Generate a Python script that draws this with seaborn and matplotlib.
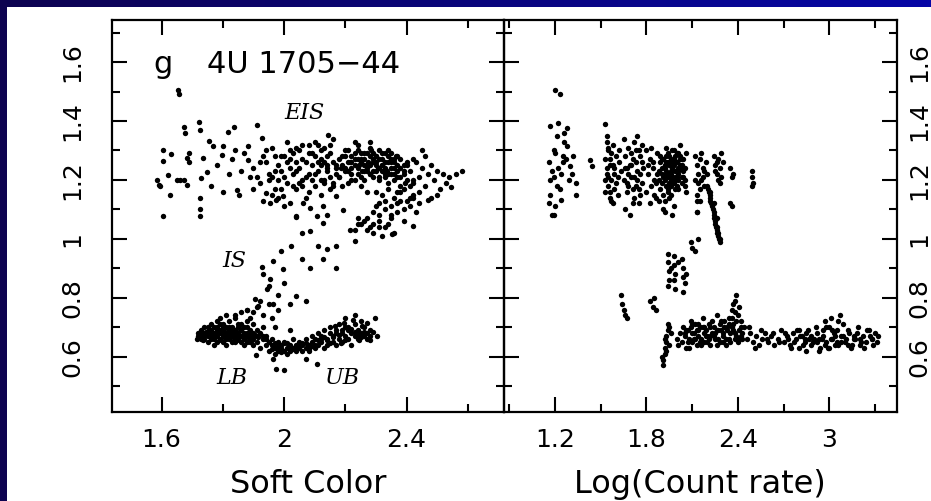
import numpy as np
import matplotlib
matplotlib.use("Agg")
import matplotlib.pyplot as plt
import seaborn as sns
import pandas as pd
from matplotlib.ticker import MultipleLocator, FixedLocator
from matplotlib.colors import LinearSegmentedColormap
from matplotlib.patches import Rectangle

# ---------------- Panel g (left): Soft colour vs Hard colour ----------------
eis_left_x = [1.654,1.656,1.673,1.676,1.722,1.725,1.817,1.836,1.91,1.928,2.144,1.605,1.63,1.605,1.69,1.683,1.736,1.755,1.768,1.80,1.796,1.622,1.649,1.672,1.684,1.727,1.749,1.82,1.584,1.592,1.627,1.725,1.845,1.853,1.881,1.881,1.605,1.725,1.725,1.66,1.69,1.78,1.83,1.86,1.87,1.89,1.90,1.76,1.80,1.84,1.594]
eis_left_y = [1.506,1.493,1.38,1.359,1.395,1.37,1.364,1.378,1.386,1.342,1.354,1.30,1.288,1.264,1.291,1.275,1.275,1.331,1.314,1.314,1.285,1.218,1.201,1.201,1.184,1.205,1.228,1.221,1.201,1.184,1.15,1.139,1.167,1.15,1.314,1.267,1.079,1.079,1.10,1.20,1.26,1.25,1.27,1.23,1.29,1.21,1.17,1.18,1.16,1.30,1.18]

eis_mid_x = [1.90,1.92,1.93,1.95,1.96,1.97,1.98,2.00,2.01,2.02,2.03,2.04,2.05,2.06,2.07,2.08,2.09,2.10,2.11,2.12,2.13,2.14,2.15,2.16,2.17,2.18,2.19,2.20,
             1.91,1.94,1.96,1.99,2.01,2.03,2.05,2.07,2.09,2.11,2.13,2.15,2.17,2.19,1.93,1.97,2.00,2.04,2.08,2.12,2.16,2.20,1.98,2.02,2.06,2.10,2.14,2.18,
             1.92,1.95,1.97,1.99,2.02,2.04,2.06,2.08,2.10,2.12,2.14,1.94,1.96,1.99,2.01,2.03,2.05,2.08,2.11,2.13,2.15,2.02,2.06,2.09,2.12,1.98,2.00,2.04,2.07,2.10]
eis_mid_y = [1.24,1.19,1.28,1.22,1.31,1.17,1.25,1.21,1.33,1.27,1.18,1.23,1.30,1.20,1.26,1.16,1.29,1.22,1.32,1.25,1.19,1.28,1.21,1.34,1.24,1.27,1.18,1.30,
             1.21,1.26,1.15,1.23,1.19,1.29,1.24,1.14,1.20,1.26,1.31,1.17,1.22,1.25,1.13,1.28,1.11,1.26,1.32,1.15,1.19,1.23,1.20,1.12,1.18,1.28,1.24,1.21,
             1.26,1.20,1.23,1.28,1.24,1.17,1.27,1.22,1.18,1.30,1.25,1.30,1.21,1.17,1.26,1.22,1.19,1.29,1.23,1.26,1.32,1.30,1.32,1.25,1.20,1.14,1.28,1.31,1.21,1.33]

eis_core_x = [2.21,2.22,2.23,2.24,2.25,2.26,2.27,2.28,2.29,2.30,2.31,2.32,2.33,2.34,2.35,2.36,2.37,2.38,2.39,2.40,
              2.21,2.22,2.23,2.24,2.25,2.26,2.27,2.28,2.29,2.30,2.31,2.32,2.33,2.34,2.35,2.36,2.37,2.38,2.39,2.40,
              2.20,2.22,2.24,2.26,2.28,2.30,2.32,2.34,2.36,2.38,2.21,2.23,2.25,2.27,2.29,2.31,2.33,2.35,2.37,2.39,
              2.22,2.25,2.28,2.31,2.34,2.37,2.24,2.27,2.30,2.33,2.36,2.26,2.29,2.32,2.35,2.23,2.28,
              2.12,2.14,2.16,2.18,2.20,2.22,2.24,2.26,2.28,2.30,2.32,2.34,2.36,2.38,2.40,2.42,2.13,2.15,2.17,2.19,2.21,2.23,2.25,2.27,2.29,2.31,2.33,2.35,2.37,2.39,2.41,2.185,2.215,2.245,2.275,2.305,2.335,2.365,2.395,2.255,2.285]
eis_core_y = [1.26,1.22,1.29,1.24,1.27,1.20,1.25,1.28,1.23,1.26,1.21,1.29,1.24,1.19,1.27,1.22,1.25,1.18,1.23,1.20,
              1.23,1.28,1.25,1.30,1.21,1.27,1.24,1.22,1.29,1.25,1.27,1.23,1.26,1.28,1.22,1.26,1.21,1.24,1.17,1.25,
              1.24,1.26,1.22,1.25,1.31,1.23,1.27,1.30,1.20,1.27,1.19,1.33,1.26,1.29,1.26,1.30,1.21,1.24,1.16,1.22,
              1.20,1.18,1.25,1.24,1.26,1.28,1.32,1.16,1.28,1.22,1.24,1.23,1.21,1.25,1.29,1.27,1.33,
              1.27,1.23,1.26,1.21,1.28,1.24,1.27,1.29,1.22,1.28,1.25,1.22,1.27,1.21,1.26,1.20,1.20,1.29,1.25,1.28,1.30,1.20,1.29,1.23,1.27,1.20,1.29,1.26,1.23,1.25,1.18,1.24,1.26,1.25,1.26,1.24,1.23,1.28,1.19,1.23,1.30]

eis_tail_x = [2.41,2.42,2.43,2.44,2.45,2.46,2.47,2.48,2.49,2.50,2.51,2.52,2.53,2.54,2.56,2.58,2.42,2.44,2.46,2.48,2.41,2.45,2.50]
eis_tail_y = [1.23,1.19,1.26,1.21,1.24,1.18,1.22,1.25,1.20,1.23,1.17,1.22,1.19,1.21,1.22,1.23,1.27,1.16,1.28,1.14,1.14,1.30,1.15]

hook_x = [2.30,2.32,2.34,2.36,2.38,2.40,2.42,2.44,2.31,2.33,2.35,2.37,2.39,2.41,2.43,2.29,2.31,2.33,2.35,2.37,2.39,2.27,2.29,2.31,2.33,2.35,2.25,2.27,2.29,2.31,2.24,2.26,2.28,2.23,2.30,2.34,2.38,2.42,2.36,2.32,
          2.231,2.351,2.422,2.47,2.546,2.04,2.057,2.084,2.128,2.139,2.193,2.215,2.24,1.942,1.975,1.997,1.954,2.062,2.084,2.106,2.128,2.171,2.16]
hook_y = [1.16,1.15,1.17,1.14,1.16,1.13,1.15,1.12,1.12,1.13,1.11,1.12,1.10,1.11,1.09,1.09,1.08,1.10,1.07,1.09,1.06,1.07,1.05,1.06,1.04,1.08,1.05,1.03,1.02,1.04,1.07,1.06,1.04,1.03,1.11,1.05,1.13,1.14,1.02,1.01,
          0.992,1.015,1.043,1.133,1.176,1.077,1.02,1.026,1.054,1.08,1.099,1.031,1.05,1.156,1.133,1.144,1.122,1.122,1.105,1.077,1.111,1.144,1.178]

is_x = [1.99,2.024,1.963,1.927,1.996,1.954,1.943,1.905,1.915,1.878,2.04,2.073,2.019,1.964,2.057,2.084,2.111,2.139,2.171,2.128,2.171,2.039,1.93,1.95,1.98,2.0]
is_y = [0.958,0.977,0.924,0.905,0.896,0.862,0.828,0.794,0.772,0.76,0.805,0.789,0.777,0.777,0.93,0.902,0.975,0.964,0.975,0.93,0.902,1.075,0.88,0.84,0.81,0.85]

lb_x = [1.72,1.73,1.73,1.74,1.74,1.75,1.75,1.76,1.76,1.76,1.77,1.77,1.78,1.78,1.78,1.79,1.79,1.80,1.80,1.80,1.81,1.81,1.81,1.82,1.82,1.82,1.83,1.83,1.83,1.84,1.84,1.84,1.85,1.85,1.85,1.86,1.86,1.86,1.87,1.87,1.87,1.88,1.88,1.88,1.89,1.89,1.90,1.90,1.90,1.91,1.91,1.92,1.92,1.93,1.93,1.94,1.94,1.95,1.95,
        1.725,1.735,1.745,1.755,1.765,1.775,1.785,1.795,1.805,1.815,1.825,1.835,1.845,1.855,1.865,1.875,1.885,1.895,1.905,1.915,
        1.73,1.74,1.75,1.76,1.77,1.78,1.79,1.80,1.81,1.82,1.83,1.84,1.85,1.86,1.87,1.88,1.89,1.90,1.91,1.74,1.76,1.78,1.80,1.82,1.84,1.86,1.88,1.90,1.75,1.77,1.79,1.81,1.83,1.85,1.87,1.89,1.715,1.72,1.93,1.94,
        1.79,1.81,1.84,1.86,1.88,1.90,1.91,1.92,1.89,1.93,1.96,1.97,2.02,1.95,1.98]
lb_y = [0.67,0.69,0.66,0.68,0.70,0.65,0.67,0.69,0.71,0.66,0.68,0.64,0.70,0.67,0.72,0.66,0.69,0.68,0.65,0.71,0.67,0.70,0.64,0.69,0.66,0.72,0.68,0.65,0.70,0.67,0.69,0.73,0.66,0.68,0.71,0.65,0.69,0.67,0.70,0.66,0.64,0.68,0.65,0.72,0.67,0.69,0.66,0.64,0.71,0.67,0.65,0.68,0.63,0.66,0.70,0.64,0.67,0.65,0.62,
        0.675,0.655,0.685,0.695,0.675,0.665,0.685,0.655,0.695,0.675,0.665,0.685,0.655,0.695,0.675,0.665,0.685,0.655,0.675,0.665,
        0.68,0.66,0.70,0.67,0.70,0.65,0.68,0.70,0.66,0.68,0.67,0.65,0.70,0.67,0.68,0.67,0.65,0.68,0.69,0.67,0.68,0.69,0.67,0.70,0.66,0.71,0.70,0.67,0.68,0.66,0.71,0.68,0.69,0.67,0.66,0.66,0.66,0.68,0.67,0.66,
        0.73,0.74,0.74,0.75,0.76,0.75,0.77,0.79,0.73,0.74,0.73,0.70,0.69,0.78,0.76]

ub_x = [1.96,1.96,1.97,1.97,1.98,1.98,1.99,1.99,2.00,2.00,2.01,2.01,2.02,2.02,2.03,2.03,2.04,2.04,2.05,2.05,2.06,2.06,2.07,2.07,2.08,2.08,2.09,2.09,2.10,2.10,
        2.11,2.11,2.12,2.12,2.13,2.13,2.14,2.14,2.15,2.15,2.16,2.16,2.17,2.17,2.18,2.18,2.19,2.19,2.20,2.20,2.20,2.21,2.21,2.22,2.22,2.23,2.23,2.24,2.24,2.25,2.25,2.26,2.26,2.27,2.27,2.28,2.28,2.23,2.297,2.302,
        1.96,1.98,2.00,2.02,2.04,2.06,2.08,2.10,2.12,2.14,2.16,2.18,2.20,2.22,2.24,2.26,2.28,1.97,1.99,2.01,2.03,2.05,2.07,2.09,2.11,2.13,2.15,2.17,2.19,2.21,2.23,2.25,2.27,2.29,2.165,2.195,2.225,2.255,2.185,2.245,
        1.964,1.975,2.0,2.073,2.106,1.907]
ub_y = [0.64,0.66,0.63,0.61,0.65,0.62,0.64,0.63,0.62,0.65,0.63,0.61,0.64,0.62,0.63,0.66,0.62,0.64,0.63,0.65,0.62,0.64,0.66,0.63,0.64,0.62,0.65,0.67,0.63,0.66,
        0.64,0.68,0.65,0.67,0.63,0.69,0.66,0.64,0.68,0.70,0.65,0.67,0.64,0.69,0.66,0.71,0.68,0.65,0.67,0.70,0.73,0.66,0.69,0.68,0.64,0.71,0.67,0.69,0.66,0.68,0.72,0.67,0.70,0.66,0.68,0.69,0.67,0.743,0.732,0.67,
        0.625,0.635,0.645,0.625,0.635,0.645,0.625,0.64,0.66,0.655,0.665,0.675,0.655,0.695,0.675,0.685,0.655,0.645,0.615,0.645,0.625,0.64,0.645,0.635,0.655,0.665,0.645,0.68,0.69,0.70,0.685,0.665,0.715,0.685,0.705,0.715,0.725,0.705,0.645,0.655,
        0.591,0.559,0.555,0.593,0.574,0.605]

# ---------------- Panel right: Log(Count rate) vs Hard colour ----------------
c12_x = [1.20,1.23,1.17,1.22,1.28,1.20,1.25,1.28,1.30,1.17,1.19,1.24,1.34,1.34,1.17,1.24,1.18,1.19,1.21,1.26,1.16,1.22,1.27,1.19,1.31,1.23,1.18,1.29,1.21,1.25,1.32,1.20,1.16,1.26,1.43,1.44]
c12_y = [1.506,1.493,1.382,1.393,1.376,1.291,1.28,1.314,1.246,1.20,1.21,1.22,1.19,1.15,1.15,1.133,1.082,1.08,1.35,1.33,1.26,1.24,1.27,1.30,1.22,1.17,1.23,1.20,1.18,1.26,1.28,1.11,1.12,1.36,1.269,1.248]

c15_x = [1.53,1.54,1.55,1.53,1.56,1.58,1.54,1.57,1.55,1.60,1.59,1.53,1.56,1.61,1.58,1.62,1.55,1.57,1.54,1.60,1.63,1.59,1.56,1.53,1.58,1.61,1.55,1.57,1.62,1.54,1.59,1.56]
c15_y = [1.39,1.33,1.30,1.27,1.25,1.32,1.22,1.20,1.18,1.28,1.24,1.16,1.14,1.21,1.12,1.26,1.31,1.29,1.24,1.19,1.23,1.17,1.27,1.20,1.25,1.15,1.21,1.13,1.30,1.35,1.22,1.16]

c17_x = [1.65,1.66,1.67,1.68,1.70,1.71,1.72,1.73,1.75,1.76,1.77,1.65,1.67,1.69,1.70,1.72,1.74,1.75,1.77,1.78,1.66,1.68,1.71,1.73,1.74,1.76,1.69,1.72,1.75,1.67,1.70,1.73,1.76,1.66,1.71,1.74,1.68,1.77]
c17_y = [1.34,1.28,1.24,1.31,1.21,1.27,1.33,1.18,1.30,1.22,1.26,1.20,1.16,1.25,1.29,1.14,1.23,1.17,1.19,1.24,1.10,1.22,1.12,1.26,1.20,1.15,1.08,1.21,1.12,1.19,1.25,1.30,1.28,1.24,1.17,1.35,1.18,1.32]

c19_x = [1.80,1.81,1.82,1.83,1.84,1.85,1.86,1.87,1.88,1.89,1.90,1.91,1.92,1.93,1.94,1.95,1.96,1.97,1.98,1.99,2.00,2.01,2.02,2.03,2.04,2.05,2.06,
         1.80,1.82,1.84,1.86,1.88,1.90,1.92,1.94,1.96,1.98,2.00,2.02,2.04,2.06,1.81,1.83,1.85,1.87,1.89,1.91,1.93,1.95,1.97,1.99,2.01,2.03,2.05,
         1.90,1.91,1.92,1.93,1.94,1.95,1.96,1.97,1.98,1.99,2.00,2.01,2.02,2.03,1.92,1.94,1.96,1.98,2.00,2.02,1.93,1.95,1.97,1.99,2.01,
         1.88,1.90,1.92,1.94,1.96,1.98,2.00,2.02,2.04,1.89,1.91,1.93,1.95,1.97,1.99,2.01,2.03,2.05,1.95,1.97,1.99,2.01,1.93,1.96,2.00]
c19_y = [1.30,1.22,1.27,1.18,1.24,1.20,1.14,1.29,1.23,1.26,1.19,1.21,1.25,1.31,1.17,1.28,1.22,1.24,1.30,1.20,1.26,1.23,1.32,1.19,1.27,1.24,1.29,
         1.16,1.12,1.26,1.19,1.13,1.27,1.09,1.21,1.15,1.11,1.18,1.24,1.21,1.16,1.25,1.31,1.15,1.22,1.17,1.10,1.23,1.19,1.08,1.26,1.22,1.27,1.18,
         1.24,1.27,1.20,1.22,1.29,1.25,1.18,1.21,1.27,1.23,1.29,1.20,1.25,1.21,1.13,1.16,1.27,1.19,1.23,1.28,1.26,1.22,1.30,1.17,1.24,
         1.20,1.22,1.24,1.26,1.23,1.25,1.21,1.27,1.23,1.28,1.15,1.18,1.22,1.26,1.28,1.17,1.25,1.20,1.14,1.24,1.21,1.29,1.28,1.20,1.26]

c22_x = [2.12,2.13,2.14,2.15,2.16,2.17,2.18,2.19,2.13,2.15,2.17,2.14,2.16,2.18,2.13,2.20,2.15,2.12,
         2.24,2.25,2.26,2.27,2.28,2.29,2.30,2.25,2.27,2.29,2.35,2.36,2.37,2.26,2.28,2.35,2.36,
         2.49,2.49,2.50,2.49,2.13,2.13]
c22_y = [1.28,1.25,1.22,1.27,1.20,1.24,1.18,1.26,1.15,1.13,1.21,1.19,1.29,1.23,1.09,1.22,1.17,1.20,
         1.28,1.25,1.22,1.27,1.24,1.21,1.26,1.23,1.20,1.29,1.24,1.21,1.22,1.26,1.19,1.12,1.11,
         1.23,1.21,1.19,1.18,1.127,1.09]

streak_x = [2.20,2.205,2.21,2.215,2.22,2.22,2.225,2.23,2.235,2.24,2.24,2.245,2.25,2.25,2.255,2.26,2.26,2.265,2.27,2.27,2.275,2.28,2.28,2.22,2.24,2.26]
streak_y = [1.18,1.17,1.16,1.15,1.14,1.13,1.12,1.11,1.10,1.09,1.08,1.07,1.06,1.05,1.04,1.04,1.03,1.02,1.02,1.01,1.00,1.00,0.99,1.16,1.12,1.07]

mid2_x = [1.94,1.94,1.95,1.95,1.94,1.98,1.98,1.99,1.98,1.99,2.03,2.04,2.04,2.05,2.04,2.09,2.10,2.12,2.14,1.96,2.01,2.06,
          1.63,1.64,1.65,1.66,1.67,1.82,1.84,1.86,1.85]
mid2_y = [0.95,0.92,0.89,0.86,0.84,0.94,0.91,0.88,0.86,0.83,0.93,0.90,0.87,0.85,0.82,0.99,0.97,0.96,1.00,0.90,0.92,0.88,
          0.81,0.78,0.76,0.74,0.73,0.79,0.77,0.76,0.80]

low2a_x = [1.91,1.91,1.92,1.92,1.93,1.93,1.94,1.94,1.92,1.93,1.95,1.96,1.95,1.90,
           2.00,2.01,2.02,2.03,2.04,2.05,2.06,2.07,2.08,2.09,2.10,2.11,2.12,2.13,2.14,2.15,2.16,2.17,2.18,2.19,2.20,2.21,2.22,2.23,2.24,2.25,2.26,2.27,2.28,2.29,2.30,2.31,2.32,2.33,2.34,2.35,2.36,2.37,2.38,2.39,2.40,2.41,2.42,2.43,2.44,
           2.06,2.08,2.10,2.12,2.14,2.16,2.18,2.20,2.22,2.24,2.26,2.28,2.30,2.32,2.34,2.36,2.38,2.40,2.42,2.37,2.39,2.41,2.38,
           2.05,2.07,2.09,2.11,2.13,2.15,2.17,2.19,2.21,2.23,2.25,2.27,2.29,2.31,2.33,2.35,2.37,2.39,2.41,2.43,2.10,2.14,2.18,2.22,2.26,2.30,2.34,2.38,2.42,2.36]
low2a_y = [0.57,0.59,0.61,0.63,0.65,0.67,0.69,0.71,0.66,0.62,0.64,0.68,0.70,0.60,
           0.66,0.64,0.68,0.65,0.70,0.67,0.63,0.69,0.66,0.72,0.65,0.68,0.71,0.64,0.67,0.70,0.66,0.73,0.65,0.69,0.67,0.71,0.64,0.68,0.70,0.66,0.74,0.69,0.65,0.72,0.67,0.70,0.66,0.69,0.73,0.68,0.76,0.71,0.79,0.67,0.74,0.69,0.72,0.66,0.70,
           0.69,0.63,0.68,0.66,0.71,0.64,0.68,0.65,0.70,0.67,0.64,0.71,0.68,0.64,0.66,0.70,0.68,0.65,0.67,0.78,0.81,0.77,0.75,
           0.68,0.65,0.70,0.66,0.69,0.65,0.70,0.67,0.66,0.72,0.68,0.66,0.69,0.72,0.70,0.65,0.69,0.72,0.66,0.68,0.71,0.69,0.70,0.67,0.69,0.65,0.71,0.66,0.70,0.73]

low2b_x = [2.46,2.48,2.50,2.52,2.54,2.56,2.58,2.60,2.62,2.64,2.66,2.68,2.47,2.51,2.55,2.59,2.63,2.67,
           2.70,2.72,2.74,2.76,2.78,2.80,2.82,2.84,2.86,2.88,2.90,2.92,2.94,2.96,2.98,3.00,3.02,3.04,3.06,3.08,3.10,3.12,3.14,3.16,3.18,3.20,3.22,3.24,3.26,3.28,3.30,3.32,
           2.71,2.75,2.79,2.83,2.87,2.91,2.95,2.99,3.03,3.07,3.11,3.15,3.19,3.23,3.27,3.31,2.97,3.01,3.05,3.09,2.93,2.85,
           2.73,2.77,2.81,2.85,2.89,2.93,2.97,3.01,3.05,3.09,3.13,3.17,3.21,3.25,3.29,2.80,2.88,2.96,3.04,3.12,3.20,3.28,2.92,3.00,3.08,3.16,2.84,3.02,3.06,2.98]
low2b_y = [0.66,0.68,0.65,0.67,0.64,0.66,0.68,0.65,0.67,0.64,0.66,0.69,0.70,0.63,0.69,0.66,0.68,0.65,
           0.65,0.67,0.64,0.68,0.66,0.63,0.67,0.65,0.69,0.64,0.66,0.68,0.63,0.67,0.65,0.70,0.66,0.64,0.72,0.67,0.65,0.69,0.63,0.66,0.68,0.64,0.67,0.65,0.69,0.66,0.68,0.67,
           0.68,0.63,0.69,0.64,0.66,0.70,0.66,0.63,0.68,0.74,0.66,0.64,0.70,0.63,0.67,0.65,0.72,0.73,0.69,0.71,0.62,0.62,
           0.66,0.65,0.67,0.68,0.65,0.66,0.64,0.66,0.65,0.67,0.68,0.66,0.65,0.69,0.64,0.69,0.67,0.69,0.67,0.64,0.66,0.66,0.65,0.63,0.65,0.67,0.66,0.69,0.64,0.70]

x1_ticks = [1.6, 2.0, 2.4]
x1_labels = ["1.6", "2", "2.4"]
x2_ticks = [1.2, 1.8, 2.4, 3.0]
x2_labels = ["1.2", "1.8", "2.4", "3"]
y_ticks = [0.6, 0.8, 1.0, 1.2, 1.4, 1.6]
y_labels = ["0.6", "0.8", "1", "1.2", "1.4", "1.6"]

df1 = pd.DataFrame({
    "soft": eis_left_x + eis_mid_x + eis_core_x + eis_tail_x + hook_x + is_x + lb_x + ub_x,
    "hard": eis_left_y + eis_mid_y + eis_core_y + eis_tail_y + hook_y + is_y + lb_y + ub_y,
})
df2 = pd.DataFrame({
    "rate": c12_x + c15_x + c17_x + c19_x + c22_x + streak_x + mid2_x + low2a_x + low2b_x,
    "hard": c12_y + c15_y + c17_y + c19_y + c22_y + streak_y + mid2_y + low2a_y + low2b_y,
})

sns.set_theme(style="white")
plt.rcParams['font.family'] = ['DejaVu Sans']
plt.rcParams.update({"text.color": "black", "axes.labelcolor": "black",
                     "xtick.color": "black", "ytick.color": "black"})

W, H = 931, 501
fig = plt.figure(figsize=(W / 100, H / 100), dpi=100)
fig.patch.set_facecolor("white")

# slide-like blue border strips
bg = fig.add_axes([0, 0, 1, 1], zorder=-10)
bg.set_xlim(0, 1); bg.set_ylim(0, 1); bg.axis("off")
cmap = LinearSegmentedColormap.from_list("band", ["#0d0350", "#0606a6"])
bg.imshow(np.linspace(0, 1, 256).reshape(1, -1), extent=[0, 1, 1 - 7 / H, 1],
          aspect="auto", cmap=cmap)
bg.add_patch(Rectangle((0, 0), 7 / W, 1, color="#0d0350", lw=0))

yl, yh = 0.413, 1.743
ax1 = fig.add_axes([111.7 / W, 1 - 411.7 / H, (504 - 111.7) / W, (411.7 - 20) / H])
ax2 = fig.add_axes([504 / W, 1 - 411.7 / H, (896.5 - 504) / W, (411.7 - 20) / H])

sns.scatterplot(data=df1, x="soft", y="hard", ax=ax1, s=15, color="black",
                linewidth=0, legend=False)
sns.scatterplot(data=df2, x="rate", y="hard", ax=ax2, s=15, color="black",
                linewidth=0, legend=False)

for ax in (ax1, ax2):
    ax.set_facecolor("none")
    ax.set_ylim(yl, yh)
    for sp in ax.spines.values():
        sp.set_linewidth(1.6)
        sp.set_color("black")
    ax.yaxis.set_major_locator(FixedLocator(y_ticks))
    ax.yaxis.set_minor_locator(MultipleLocator(0.1))
    ax.tick_params(which="both", direction="in", top=True, right=True,
                   bottom=True, left=True, width=1.5, color="black")
    ax.tick_params(which="major", length=10.8)
    ax.tick_params(which="minor", length=5.8)
    ax.set_ylabel("")

ax1.set_xlim(1.437, 2.718)
ax1.set_xticks(x1_ticks)
ax1.set_xticklabels(x1_labels)
ax1.xaxis.set_minor_locator(MultipleLocator(0.2))
ax1.set_yticklabels(y_labels, rotation=90, va="center")
ax1.tick_params(axis="y", labelsize=18, pad=20)
ax1.tick_params(axis="x", labelsize=18, pad=12)
ax1.set_xlabel("Soft Color", fontsize=23, labelpad=12)

ax2.set_xlim(0.865, 3.441)
ax2.set_xticks(x2_ticks)
ax2.set_xticklabels(x2_labels)
ax2.xaxis.set_minor_locator(MultipleLocator(0.3))
ax2.tick_params(axis="y", labelleft=False, labelright=True, labelsize=18, pad=7.5)
ax2.set_yticklabels(y_labels, rotation=90, va="center")
ax2.tick_params(axis="x", labelsize=18, pad=12)
ax2.set_xlabel("Log(Count rate)", fontsize=23, labelpad=12)

ax1.text(1.572, 1.564, "g", fontsize=22, va="baseline", ha="left")
ax1.text(1.748, 1.564, "4U 1705\u221244", fontsize=22, va="baseline", ha="left")
serif = dict(family="DejaVu Serif", style="italic", fontsize=16, ha="center", va="center")
ax1.text(2.068, 1.428, "EIS", **serif)
ax1.text(1.839, 0.926, "IS", **serif)
ax1.text(1.83, 0.526, "LB", **serif)
ax1.text(2.189, 0.526, "UB", **serif)

fig.savefig("out.png", dpi=100)
